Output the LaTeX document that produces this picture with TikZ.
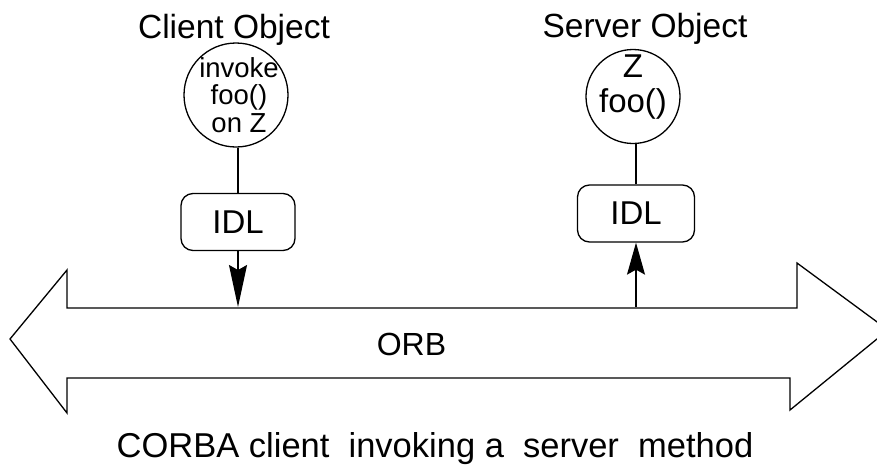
\documentclass[tikz,border=0pt]{standalone}
\usepackage{fontspec}
\setmainfont{Liberation Sans}
\usetikzlibrary{arrows.meta, positioning}

\newcommand{\pxfont}[2]{\fontsize{#1}{#2}\selectfont}

\begin{document}
\begin{tikzpicture}[x=1pt, y=-1pt, line width=1.3pt,
    obj/.style={draw, circle, inner sep=0pt},
    idl/.style={draw, rounded corners=12pt, minimum width=114pt, minimum height=57pt, inner sep=0pt, font=\pxfont{33}{33}},
    title/.style={anchor=base, inner sep=0pt, font=\pxfont{33.5}{33.5}}]
    \useasboundingbox (0,0) rectangle (877,466);

    % --- titles ---
    \node[title] (ctitle) at (234,38) {Client Object};
    \node[title] (stitle) at (645,37) {Server Object};

    % --- objects ---
    \node[obj, minimum size=104pt] (cobj) at (236,95) {};
    \node[align=center, inner sep=0pt, font=\pxfont{27.5}{27.5}] (ctext) at (239,95) {invoke\\foo()\\on Z};
    \node[obj, minimum size=94pt] (sobj) at (633,96.5) {};
    \node[align=center, inner sep=0pt, font=\pxfont{33}{35}] (stext) at (633,87.5) {Z\\foo()};

    % --- IDL stubs ---
    \node[idl] (cidl) at (238,222) {IDL};
    \node[idl, minimum width=117pt] (sidl) at (636,213.5) {IDL};

    % --- ORB bus ---
    \draw (67,308) -- (67,270) -- (10,339) -- (67,413) -- (67,378) -- (790,378)
        -- (790,410) -- (888,330) -- (797,263) -- (797,308) -- cycle;
    \node[title, font=\pxfont{32}{32}] (orb) at (411.5,355) {ORB};
    \coordinate (cin) at (238,307);
    \coordinate (sout) at (636,307);

    % --- connectors ---
    \draw (cidl.north) -- (cidl.north |- cobj.south);
    \draw (sidl.north) -- (sidl.north |- sobj.south);
    \draw[-{Stealth[length=42pt, width=18pt, inset=5pt]}] (cidl.south) -- (cin);
    \draw[-{Stealth[length=32pt, width=18pt, inset=5pt]}] (sout) -- (sidl.south);

    % --- caption ---
    \node[title, font=\pxfont{34.5}{34.5}] (caption) at (435,457) {CORBA client\ \ invoking a\ \ server\ \ method};
\end{tikzpicture}
\end{document}
